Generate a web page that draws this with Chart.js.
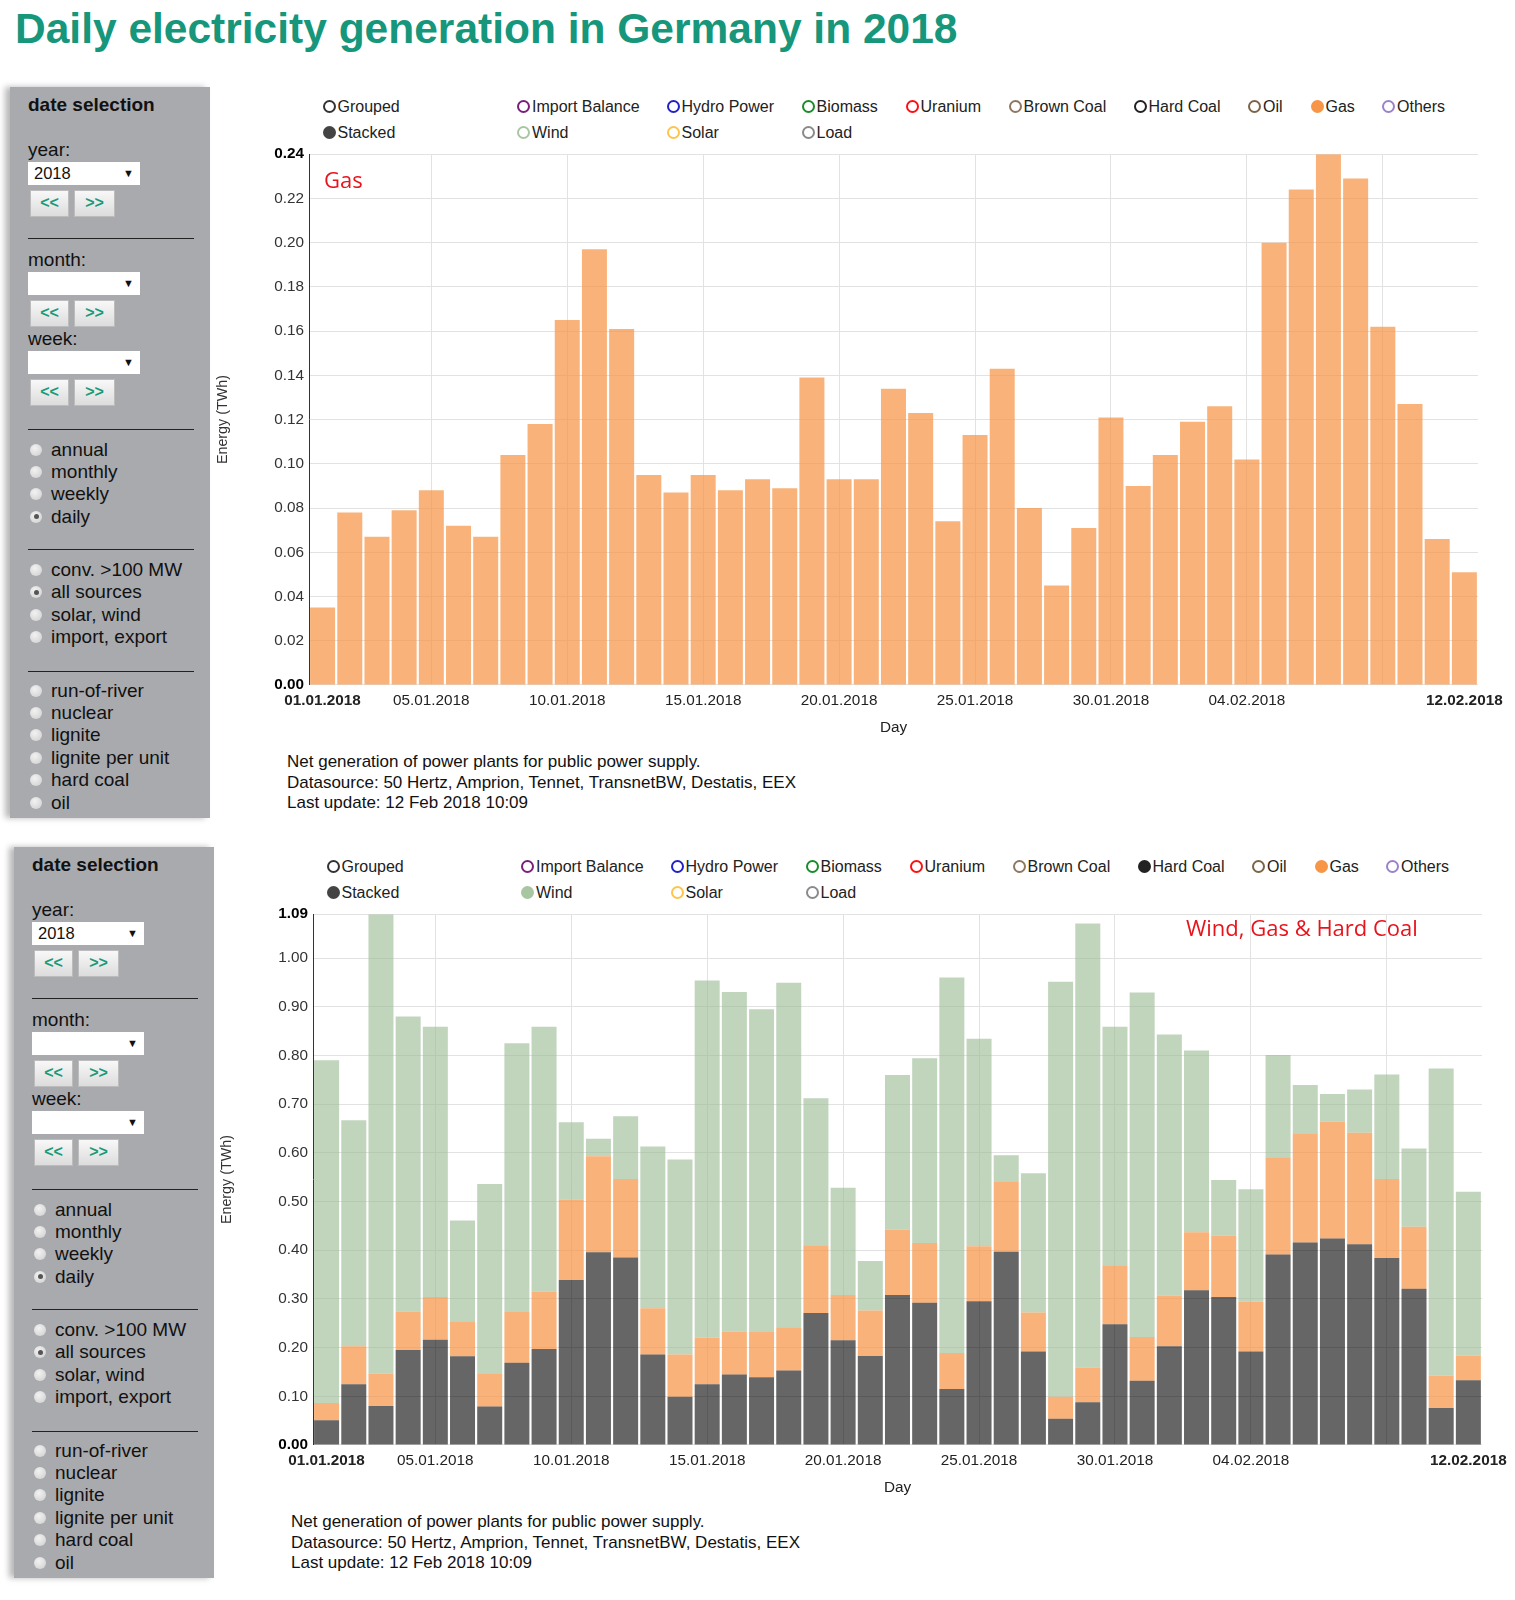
<!DOCTYPE html>
<html>
<head>
<meta charset="utf-8">
<title>Daily electricity generation in Germany in 2018</title>
<script src="https://cdn.jsdelivr.net/npm/chart.js@4.4.1/dist/chart.umd.min.js"></script>
<style>
  body { margin: 0; width: 1515px; height: 1600px; background: #fff; position: relative; overflow: hidden;
         font-family: "Liberation Sans", Arial, sans-serif; color: #111; }
  h1 { position: absolute; left: 15px; top: 4px; margin: 0; font-size: 42.5px; line-height: 50px; color: #16967a; font-weight: bold; white-space: nowrap; }
  .panel { position: absolute; width: 1515px; height: 820px; }
  .side { position: absolute; left: 10px; top: 87px; width: 200px; height: 731px; background: #a9aaae;
          box-shadow: -5px 0 6px rgba(0,0,0,0.28); overflow: hidden; }
  .t { position: absolute; white-space: nowrap; line-height: 22px; }
  .hr { position: absolute; left: 18px; width: 166px; height: 1px; background: #222; }
  .sel { position: absolute; left: 18px; width: 112px; height: 23px; background: #fff; font-size: 16.5px; line-height: 23px; }
  .sel span { position: absolute; right: 6px; top: 0; font-size: 11px; }
  .btn { position: absolute; height: 27px; background: linear-gradient(#f8f8f8, #dcdcdc); border: 1px solid #bcbcbc;
         box-sizing: border-box; color: #1a9a78; font-weight: bold; font-size: 16px; text-align: center; line-height: 24px; }
  .radio { position: absolute; left: 20px; width: 12px; height: 12px; border-radius: 50%;
           background: radial-gradient(circle at 40% 35%, #f2f2f2, #cdcdcd); }
  .radio.on::after { content: ''; position: absolute; left: 3.5px; top: 3.5px; width: 5px; height: 5px; border-radius: 50%; background: #555; }
  .lg { position: absolute; font-size: 16px; line-height: 20px; color: #222; white-space: nowrap; }
  .dot { display: inline-block; width: 9px; height: 9px; border: 2px solid; border-radius: 50%; margin-right: 2px; vertical-align: -1px; }
  .note { position: absolute; color: #e8141c; font-family: "Open Sans", sans-serif; white-space: nowrap; line-height: 30px; }
  .box { position: absolute; left: 204px; top: 140px; width: 1306px; height: 601px; }
  .foot { position: absolute; left: 287px; font-size: 17px; line-height: 20px; color: #111; white-space: nowrap; }
</style>
</head>
<body>
<h1>Daily electricity generation in Germany in 2018</h1>
<div id="p1" class="panel" style="left:0px;top:0px"></div>
<div id="p2" class="panel" style="left:4px;top:760px"></div>

<script>
// Tage (Kategorien)
const days = [
  '01.01.2018','02.01.2018','03.01.2018','04.01.2018','05.01.2018','06.01.2018','07.01.2018','08.01.2018',
  '09.01.2018','10.01.2018','11.01.2018','12.01.2018','13.01.2018','14.01.2018','15.01.2018','16.01.2018',
  '17.01.2018','18.01.2018','19.01.2018','20.01.2018','21.01.2018','22.01.2018','23.01.2018','24.01.2018',
  '25.01.2018','26.01.2018','27.01.2018','28.01.2018','29.01.2018','30.01.2018','31.01.2018','01.02.2018',
  '02.02.2018','03.02.2018','04.02.2018','05.02.2018','06.02.2018','07.02.2018','08.02.2018','09.02.2018',
  '10.02.2018','11.02.2018','12.02.2018'
];

// beschriftete Tage und Tage mit senkrechter Gitterlinie
const dayLabels = ['01.01.2018','05.01.2018','10.01.2018','15.01.2018','20.01.2018','25.01.2018','30.01.2018','04.02.2018','12.02.2018'];
const boldDays = ['01.01.2018','12.02.2018'];
const gridDays = ['05.01.2018','10.01.2018','15.01.2018','20.01.2018','25.01.2018','30.01.2018','04.02.2018','09.02.2018'];

// Werte in TWh
const gas = [
  0.035,0.078,0.067,0.079,0.088,0.072,0.067,0.104,0.118,0.165,0.197,0.161,0.095,0.087,0.095,0.088,
  0.093,0.089,0.139,0.093,0.093,0.134,0.123,0.074,0.113,0.143,0.080,0.045,0.071,0.121,0.090,0.104,
  0.119,0.126,0.102,0.200,0.224,0.240,0.229,0.162,0.127,0.066,0.051
];
const hardCoal = [
  0.051,0.125,0.080,0.195,0.216,0.182,0.079,0.169,0.197,0.339,0.396,0.385,0.186,0.099,0.125,0.145,
  0.139,0.153,0.271,0.215,0.183,0.308,0.292,0.115,0.295,0.397,0.192,0.054,0.088,0.248,0.132,0.203,
  0.318,0.304,0.192,0.391,0.416,0.424,0.412,0.384,0.321,0.076,0.133
];
const wind = [
  0.704,0.464,0.943,0.606,0.555,0.207,0.390,0.552,0.544,0.159,0.036,0.129,0.332,0.400,0.734,0.697,
  0.663,0.707,0.302,0.220,0.102,0.318,0.379,0.771,0.426,0.055,0.286,0.852,0.912,0.490,0.707,0.536,
  0.373,0.114,0.231,0.210,0.099,0.057,0.089,0.215,0.161,0.631,0.336
];

// Achsenticks
const yTicksGas = [0,0.02,0.04,0.06,0.08,0.10,0.12,0.14,0.16,0.18,0.20,0.22,0.24];
const yTicksMix = [0,0.10,0.20,0.30,0.40,0.50,0.60,0.70,0.80,0.90,1.00,1.09];

const colGas = 'rgba(247,150,70,0.72)';
const colCoal = 'rgba(0,0,0,0.6)';
const colWind = 'rgba(155,188,148,0.62)';

function txt(x, yc, s, extra) {
  return `<div class="t" style="left:${x}px;top:${yc - 11}px;${extra || ''}">${s}</div>`;
}

function sidebarHtml() {
  let h = '';
  h += txt(18, 17.5, 'date selection', 'font-weight:bold;font-size:19px;');
  const blocks = [['year:', 62.5, '2018'], ['month:', 173, ''], ['week:', 251.5, '']];
  blocks.forEach(([lbl, y, val]) => {
    h += txt(18, y, lbl, 'font-size:19px;');
    h += `<div class="sel" style="top:${y + 12}px"><b style="font-weight:normal;padding-left:6px">${val}</b><span>&#9660;</span></div>`;
    h += `<div class="btn" style="left:20px;top:${y + 40}px;width:39px">&lt;&lt;</div>`;
    h += `<div class="btn" style="left:64px;top:${y + 40}px;width:41px">&gt;&gt;</div>`;
  });
  [151, 341.5, 462, 584].forEach(y => { h += `<div class="hr" style="top:${y}px"></div>`; });
  const radios = [
    ['annual', 363], ['monthly', 384.5], ['weekly', 407], ['daily', 429.5, true],
    ['conv. &gt;100 MW', 482.5], ['all sources', 505, true], ['solar, wind', 527.5], ['import, export', 550],
    ['run-of-river', 604], ['nuclear', 626], ['lignite', 648], ['lignite per unit', 671], ['hard coal', 693], ['oil', 716], ['', 738]
  ];
  radios.forEach(([lbl, y, on]) => {
    h += `<div class="radio${on ? ' on' : ''}" style="top:${y - 6}px"></div>`;
    h += txt(41, y, lbl, 'font-size:19px;');
  });
  return `<div class="side">${h}</div>`;
}

function legendHtml(filled) {
  const items = [
    ['Grouped', 329, 107, '#333'], ['Import Balance', 523.5, 107, '#7b1f7b'], ['Hydro Power', 673, 107, '#2222c8'],
    ['Biomass', 808, 107, '#1a8c2a'], ['Uranium', 912, 107, '#ff1010'], ['Brown Coal', 1015, 107, '#8e7862'],
    ['Hard Coal', 1140, 107, '#222'], ['Oil', 1254.5, 107, '#7d6446'], ['Gas', 1317, 107, '#f79646'],
    ['Others', 1388.5, 107, '#9b82cc'],
    ['Stacked', 329, 133, '#444'], ['Wind', 523.5, 133, '#a9c6a2'], ['Solar', 673, 133, '#ffc44a'], ['Load', 808, 133, '#8a8a8a']
  ];
  return items.map(([lbl, x, y, c]) => {
    const f = filled.includes(lbl);
    return `<div class="lg" style="left:${x - 6.5}px;top:${y - 10}px"><span class="dot" style="border-color:${c};background:${f ? c : '#fff'}"></span>${lbl}</div>`;
  }).join('');
}

function footHtml() {
  return `<div class="foot" style="top:752px">Net generation of power plants for public power supply.</div>
          <div class="foot" style="top:772.5px">Datasource: 50 Hertz, Amprion, Tennet, TransnetBW, Destatis, EEX</div>
          <div class="foot" style="top:793px">Last update: 12 Feb 2018 10:09</div>`;
}

function buildPanel(id, filled, note, noteStyle) {
  const p = document.getElementById(id);
  p.innerHTML = sidebarHtml() + legendHtml(filled) +
    `<div class="box"><canvas id="${id}c"></canvas></div>` +
    `<div class="note" style="${noteStyle}">${note}</div>` + footHtml();
  return document.getElementById(id + 'c');
}

Chart.defaults.font.family = '"Liberation Sans", Arial, sans-serif';
Chart.defaults.animation = false;

function makeChart(canvas, datasets, yMax, yTicks, stacked) {
  const isBound = ctx => !!ctx.tick && (ctx.tick.value === 0 || ctx.tick.value === yMax);
  return new Chart(canvas, {
    type: 'bar',
    data: { labels: days, datasets: datasets },
    options: {
      responsive: true,
      maintainAspectRatio: false,
      layout: { padding: { top: 10.5, right: 30, left: 0, bottom: 0 } },
      plugins: { legend: { display: false }, tooltip: { enabled: false } },
      datasets: { bar: { barPercentage: 0.92, categoryPercentage: 1.0 } },
      scales: {
        x: {
          stacked: stacked,
          afterFit: s => { s.height = 56; },
          border: { display: false },
          grid: {
            offset: false,
            drawTicks: false,
            color: ctx => gridDays.includes(days[ctx.index]) ? '#e2e2e2' : 'rgba(0,0,0,0)'
          },
          ticks: {
            autoSkip: false, maxRotation: 0, minRotation: 0, padding: 7,
            color: '#222',
            font: ctx => ({ size: 15.3, weight: boldDays.includes(days[ctx.index]) ? 'bold' : 'normal' }),
            callback: (v, i) => dayLabels.includes(days[i]) ? days[i] : ''
          },
          title: { display: true, text: 'Day', color: '#222', font: { size: 15.3 }, padding: { top: 4, bottom: 4 } }
        },
        y: {
          stacked: stacked,
          min: 0,
          max: yMax,
          afterFit: s => { s.width = 105; },
          afterBuildTicks: s => { s.ticks = yTicks.map(v => ({ value: v })); },
          border: { display: true, color: '#333', width: 1 },
          grid: { color: '#e2e2e2', drawTicks: false },
          ticks: {
            padding: 5,
            color: ctx => isBound(ctx) ? '#000' : '#333',
            font: ctx => ({ size: 15.3, weight: isBound(ctx) ? 'bold' : 'normal' }),
            callback: v => Number(v).toFixed(2)
          },
          title: { display: true, text: 'Energy (TWh)', color: '#333', font: { size: 14.3 }, padding: { top: 10.4, bottom: 0 } }
        }
      }
    }
  });
}

// Panel 1: nur Gas
const c1 = buildPanel('p1', ['Stacked', 'Gas'], 'Gas', 'left:324px;top:164px;font-size:22px;');
makeChart(c1, [
  { label: 'Gas', data: gas, backgroundColor: colGas }
], 0.24, yTicksGas, false);

// Panel 2: Hard Coal, Gas, Wind gestapelt
const c2 = buildPanel('p2', ['Stacked', 'Hard Coal', 'Gas', 'Wind'], 'Wind, Gas &amp; Hard Coal', 'left:1182px;top:152px;font-size:22px;');
makeChart(c2, [
  { label: 'Hard Coal', data: hardCoal, backgroundColor: colCoal },
  { label: 'Gas', data: gas, backgroundColor: colGas },
  { label: 'Wind', data: wind, backgroundColor: colWind }
], 1.09, yTicksMix, true);
</script>
</body>
</html>
